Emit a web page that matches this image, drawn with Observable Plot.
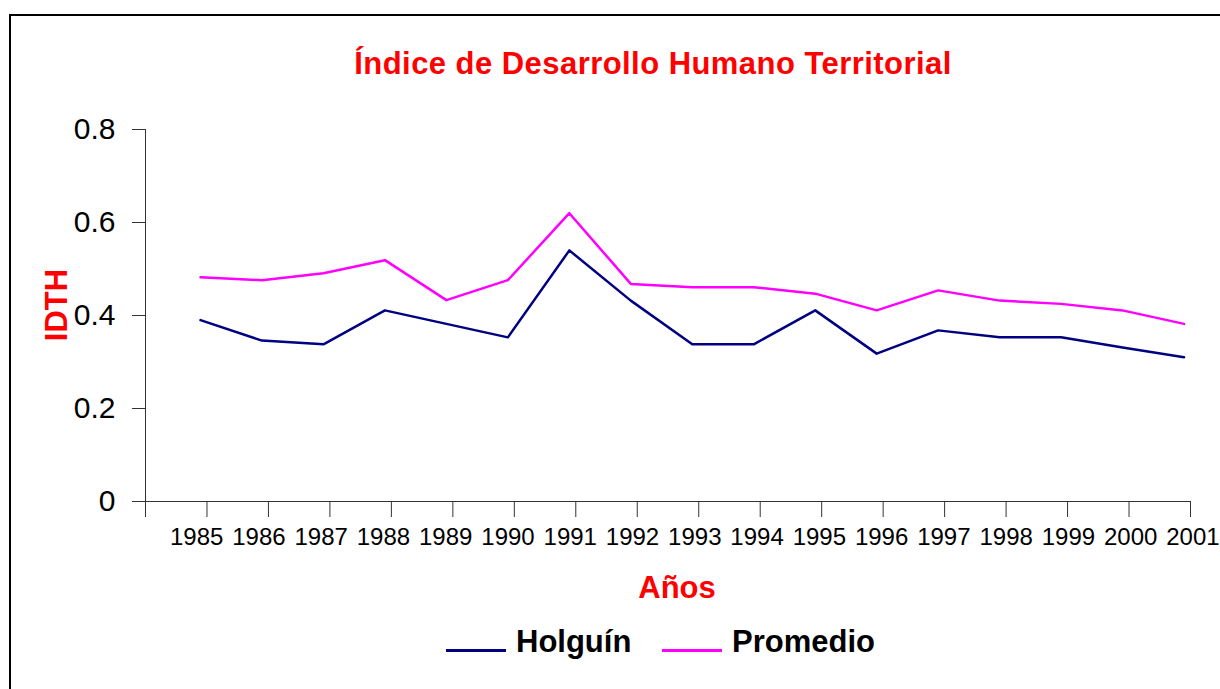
<!DOCTYPE html>
<html>
<head>
<meta charset="utf-8">
<script src="https://cdn.jsdelivr.net/npm/d3@7"></script>
<script src="https://cdn.jsdelivr.net/npm/@observablehq/plot@0.6"></script>
<style>
  html, body { margin: 0; padding: 0; background: #fff; }
  #wrap { position: relative; width: 1220px; height: 689px; overflow: hidden; font-family: "Liberation Sans", Arial, sans-serif; }
  #border { position: absolute; left: 9px; top: 14px; width: 1400px; height: 900px; border-top: 2px solid #000; border-left: 2px solid #000; }
  #chart { position: absolute; left: 0; top: 0; }
  .lbl { position: absolute; white-space: nowrap; line-height: 1; font-weight: bold; }
  #title { font-size: 31px; color: #ff0000; left: 653px; top: 48px; transform: translateX(-50%); letter-spacing: 0.45px; }
  #xlabel { font-size: 31px; color: #ff0000; left: 677px; top: 572px; transform: translateX(-50%); }
  #ylabel { font-size: 31px; color: #ff0000; left: 56px; top: 305px; transform: translate(-50%, -50%) rotate(-90deg); }
  .legline { position: absolute; height: 2.5px; width: 60px; top: 649px; }
  .legtxt { font-size: 31px; color: #000; top: 626px; }
</style>
</head>
<body>
<div id="wrap">
  <div id="border"></div>
  <div id="chart"></div>
  <div id="title" class="lbl">Índice de Desarrollo Humano Territorial</div>
  <div id="xlabel" class="lbl">Años</div>
  <div id="ylabel" class="lbl">IDTH</div>
  <div id="legend"></div>
</div>
<script>
// ---- data ----
const years = [1985, 1986, 1987, 1988, 1989, 1990, 1991, 1992, 1993, 1994, 1995, 1996, 1997, 1998, 1999, 2000, 2001];
const holguin = [0.390, 0.346, 0.338, 0.411, 0.382, 0.353, 0.540, 0.432, 0.338, 0.338, 0.411, 0.318, 0.368, 0.353, 0.353, 0.331, 0.310];
const promedio = [0.482, 0.476, 0.491, 0.519, 0.433, 0.476, 0.620, 0.468, 0.461, 0.461, 0.447, 0.411, 0.454, 0.432, 0.425, 0.411, 0.382];
const seriesNames = ["Holguín", "Promedio"];
const seriesColors = ["#000080", "#ff00ff"];
const yTicks = [0, 0.2, 0.4, 0.6, 0.8];

// ---- build table ----
const rows = [];
years.forEach((yr, i) => {
  rows.push({year: yr, value: holguin[i], serie: seriesNames[0]});
  rows.push({year: yr, value: promedio[i], serie: seriesNames[1]});
});

// category boundaries (Excel-style ticks between categories)
const off = 0.105;
const tickPos = [years[0] - 1 + off, ...years.map(y => y + off)];
// tick labels are spread slightly wider than the categories in the original
const mid = years[Math.floor(years.length / 2)];
const spread = 0.013;

const chart = Plot.plot({
  width: 1220,
  height: 689,
  marginTop: 129,
  marginBottom: 188,
  marginLeft: 145,
  marginRight: 30,
  style: {fontFamily: "'Liberation Sans', Arial, sans-serif", background: "transparent", color: "#000"},
  x: {domain: [tickPos[0], tickPos[tickPos.length - 1]]},
  y: {domain: [0, 0.8]},
  color: {domain: seriesNames, range: seriesColors},
  marks: [
    Plot.frame({anchor: "left", stroke: "#333"}),
    Plot.frame({anchor: "bottom", stroke: "#333"}),
    Plot.axisY({ticks: yTicks, tickSize: 13, tickPadding: 17, fontSize: 30, stroke: "#333", fill: "#000", tickFormat: d => String(d), label: null}),
    Plot.axisX({ticks: tickPos, tickSize: 16, stroke: "#333", tickFormat: () => "", label: null}),
    Plot.text(years, {x: d => d + (d - mid) * spread, frameAnchor: "bottom", lineAnchor: "top", dy: 26, dx: 2.5, fontSize: 24, fill: "#000", text: d => String(d)}),
    Plot.line(rows, {x: "year", y: "value", z: "serie", stroke: "serie", strokeWidth: 2.5})
  ]
});
document.getElementById("chart").appendChild(chart);

// ---- legend ----
const legend = document.getElementById("legend");
const legLineX = [446, 662];
const legTextX = [516, 732];
seriesNames.forEach((name, i) => {
  const ln = document.createElement("div");
  ln.className = "legline";
  ln.style.left = legLineX[i] + "px";
  ln.style.background = seriesColors[i];
  legend.appendChild(ln);
  const tx = document.createElement("div");
  tx.className = "lbl legtxt";
  tx.style.left = legTextX[i] + "px";
  tx.textContent = name;
  legend.appendChild(tx);
});
</script>
</body>
</html>
